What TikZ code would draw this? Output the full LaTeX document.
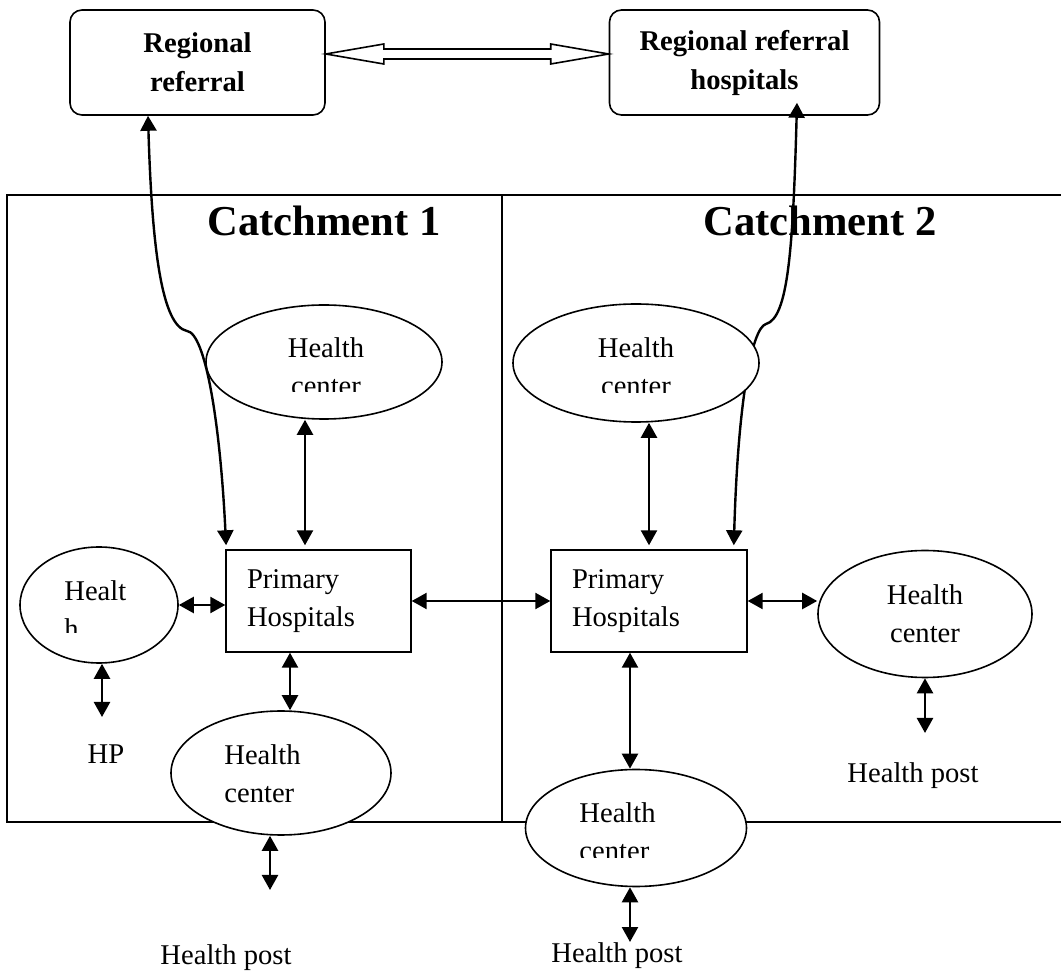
\documentclass[tikz,border=0pt]{standalone}
\usepackage{fontspec}
\setmainfont{Liberation Serif}
\usepackage{tikz}
\usetikzlibrary{calc}
\usetikzlibrary{arrows.meta}
\usetikzlibrary{shapes.geometric}
\tikzset{>={Triangle[length=7.5pt,width=8pt]}}
\tikzstyle{refbox} = [rectangle, rounded corners=6pt, draw=black, line width=0.8pt, align=center, font=\fontsize{14.3}{19.5}\selectfont\bfseries, minimum height=52.5pt]
\tikzstyle{hc} = [ellipse, draw=black, fill=white, line width=0.8pt, inner sep=0pt]
\tikzstyle{phbox} = [rectangle, draw=black, line width=0.7pt, align=left, inner xsep=10.5pt, minimum height=51pt]
\tikzstyle{lbl} = [inner sep=0pt]
\tikzstyle{catch} = [inner sep=0pt, font=\fontsize{21.3}{25}\selectfont\bfseries]
\tikzstyle{twoway} = [<->, line width=1.2pt]

\begin{document}
\begin{tikzpicture}[x=0.5pt, y=-0.5pt, font=\fontsize{14.3}{19}\selectfont]
\useasboundingbox (0,0) rectangle (1061,972);
% referral hospitals
\node [refbox, minimum width=127.5pt] (ref1) at (197.5,62.5) {Regional\\referral};
\node [refbox, minimum width=135pt] (ref2) at (744.5,62.5) {Regional referral\\hospitals};
\coordinate (al) at ($(ref1.east)+(0,-8.5)$);
\coordinate (ar) at ($(ref2.west)+(0,-8.5)$);
\draw [line width=0.8pt] (al) -- ++(58,-10) -- ++(0,5) -- ($(ar)+(-58,-5)$) -- ++(0,-5) -- (ar) -- ++(-58,10) -- ++(0,-5) -- ($(al)+(58,5)$) -- ++(0,5) -- cycle;

% catchment frame
\draw [line width=1.2pt] (1061,195) -- (7,195) -- (7,822) -- (1061,822);
\draw [line width=1.2pt] (502,195) -- (502,822);
\node [catch] (c1) at (324,220.5) {Catchment 1};
\node [catch] (c2) at (820,220.5) {Catchment 2};

% primary hospitals
\node [phbox, text width=71.5pt] (ph1) at (318.5,601) {Primary\\Hospitals};
\node [phbox, text width=77pt] (ph2) at (649,601) {Primary\\Hospitals};

% referral link of catchment 2 (runs under its health center)
\coordinate (k2) at (766,324);
\draw [twoway, shorten >=2pt] ($(ref2.south)+(52.5,-13)$) .. controls (793,250) and (788,318) .. (k2) .. controls (752,328) and (738,400) .. ($(ph2.north east)+(-14,0)$);

% health centers
\node [hc, minimum width=118pt, minimum height=57pt] (hc1) at (324,362) {};
\node [hc, minimum width=123pt, minimum height=59pt] (hc2) at (636,363) {};
\node [hc, minimum width=79pt, minimum height=58pt] (hl) at (99,605) {};
\node [hc, minimum width=110pt, minimum height=62pt] (hc3) at (281,773) {};
\node [hc, minimum width=107pt, minimum height=63.5pt, align=center] (hc4) at (925,614) {Health\\center};
\node [hc, minimum width=110.5pt, minimum height=58.5pt] (hc5) at (636,828) {};

% texts cut by their frames
\begin{scope}
\clip (200,300) rectangle (450,392);
\node [lbl, align=center] (hc1t) at (326,367) {Health\\center};
\end{scope}
\begin{scope}
\clip (510,300) rectangle (760,393);
\node [lbl, align=center] (hc2t) at (636,367) {Health\\center};
\end{scope}
\begin{scope}
\clip (20,560) rectangle (180,633);
\node [lbl, align=left, anchor=west] (hlt) at (64,610) {Healt\\h};
\end{scope}
\node [lbl, align=left, anchor=west] (hc3t) at (224,774) {Health\\center};
\begin{scope}
\clip (530,780) rectangle (745,858);
\node [lbl, align=left, anchor=west] (hc5t) at (579,832) {Health\\center};
\end{scope}

\node [lbl] (hp) at (106,754) {HP};
\node [lbl] (post1) at (226,958) {Health post};
\node [lbl] (post2) at (617,956) {Health post};
\node [lbl] (post3) at (913,776) {Health post};

% referral link of catchment 1
\coordinate (k1) at (187,331);
\draw [twoway, shorten >=2pt] ($(ref1.south)+(-49.5,0)$) .. controls (152,250) and (162,326) .. (k1) .. controls (205,333) and (220,420) .. ($(ph1.north west)+(1,0)$);

% links between facilities
\draw [twoway] (hl.east) -- (hl.east -| ph1.west);
\draw [twoway] (ph1.east) -- (ph2.west);
\draw [twoway] (ph2.east) -- (ph2.east -| hc4.west);
\draw [twoway, shorten >=2pt] ($(hc1.south)+(-19,0)$) -- ($(ph1.north)+(-13.5,0)$);
\draw [twoway, shorten >=2pt] ($(hc2.south)+(13,0)$) -- (ph2.north);
\draw [twoway] ($(ph1.south)+(-28.5,0)$) -- ($(hc3.north)+(9,0)$);
\draw [twoway] ($(ph2.south)+(-19,0)$) -- ($(hc5.north)+(-6,0)$);

% down to the health posts
\coordinate (e1) at (102,717);
\coordinate (e2) at (270,890);
\coordinate (e3) at (630,942);
\coordinate (e4) at (925,733);
\draw [twoway] (hl.south -| e1) -- (e1);
\draw [twoway] (hc3.south -| e2) -- (e2);
\draw [twoway] (hc5.south -| e3) -- (e3);
\draw [twoway] (hc4.south) -- (e4);
\end{tikzpicture}
\end{document}
